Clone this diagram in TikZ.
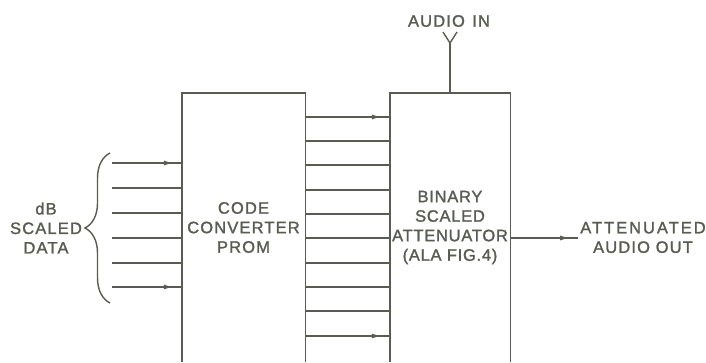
\documentclass[tikz,border=0pt]{standalone}
\usepackage{fontspec}
\setmainfont{Liberation Sans}
\usetikzlibrary{arrows.meta,decorations.markings,decorations.pathreplacing}
\definecolor{ink}{RGB}{88,92,82}
\newcommand{\letterfont}{\fontsize{16.5}{19.5}\selectfont\addfontfeature{LetterSpace=7,FakeBold=1.5}}
\tikzset{
  wire/.style={draw=ink, line width=1.4pt},
  arrowwire/.style={wire, postaction={decorate}, decoration={markings,
     mark=at position -8pt with {\arrow{Latex[length=10pt,width=5pt]}}}},
  block/.style={draw=none, minimum width=#1, minimum height=269pt, inner sep=0pt,
     align=center, text=ink, font=\letterfont},
  lbl/.style={align=center, text=ink, inner sep=0pt, font=\letterfont}
}
\begin{document}
\begin{tikzpicture}[x=1pt,y=-1pt]
\useasboundingbox (0,0) rectangle (706,362);
% blocks
\node[block=123pt] (conv) at (243.5,227.5) {CODE\\CONVERTER\\PROM};
\node[block=120pt, font=\letterfont\addfontfeature{LetterSpace=4.5}] (att) at (450,227.5) {BINARY\\SCALED\\ATTENUATOR\\(ALA FIG.4)};
\draw[wire] (conv.south west) -- (conv.north west) -- (conv.north east) -- (conv.south east);
\draw[wire] (att.south west) -- (att.north west) -- (att.north east) -- (att.south east);
% inputs
\coordinate (in0) at (112,163);
\coordinate (in1) at (112,188);
\coordinate (in2) at (112,213);
\coordinate (in3) at (112,238);
\coordinate (in4) at (112,263);
\coordinate (in5) at (112,287);
\draw[arrowwire] (in0) -- (in0 -| conv.west);
\foreach \i in {1,2,3,4} { \draw[wire] (in\i) -- (in\i -| conv.west); }
\draw[arrowwire] (in5) -- (in5 -| conv.west);
% brace and label
\coordinate (brb) at (110,303);
\coordinate (brt) at (110,153);
\draw[ink, line width=1.4pt, decorate, decoration={brace, amplitude=25pt}] (brb) -- (brt);
\node[lbl] (data) at (46,228) {dB\\SCALED\\DATA};
% middle bus
\foreach \y [count=\i from 0] in {117,141,165,190,214,238,263,287,311,336} {
  \coordinate (b\i) at (305,\y);
}
\draw[arrowwire] (b0 -| conv.east) -- (b0 -| att.west);
\foreach \i in {1,...,8} { \draw[wire] (b\i -| conv.east) -- (b\i -| att.west); }
\draw[arrowwire] (b9 -| conv.east) -- (b9 -| att.west);
% audio in
\coordinate (ain) at (450,43);
\coordinate (vl) at (443,32);
\coordinate (vr) at (457,32);
\draw[wire] (att.north) -- (ain);
\draw[wire] (vl) -- (ain) -- (vr);
\node[lbl] (ainl) at (449,21) {AUDIO\hspace{0.45em}IN};
% output
\coordinate (out) at (578,238);
\draw[arrowwire] (out -| att.east) -- (out);
\node[lbl] (outl) at (643,237.5) {{\addfontfeature{LetterSpace=12}ATTENUATED}\\AUDIO OUT};
\end{tikzpicture}
\end{document}
